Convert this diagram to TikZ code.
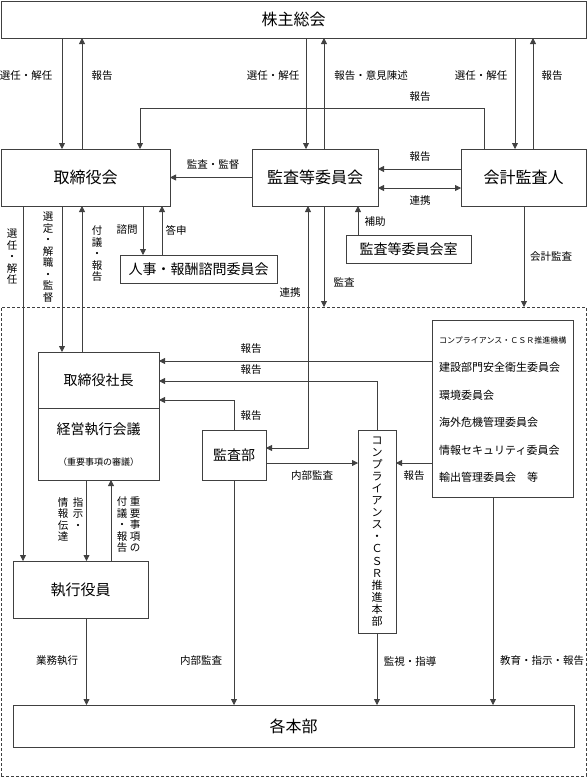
\documentclass[tikz,border=0pt]{standalone}
\usepackage{fontspec}
\setmainfont{Noto Sans CJK JP}
\usetikzlibrary{arrows.meta}

\begin{document}
\begin{tikzpicture}[x=1pt,y=-1pt,
    box/.style={draw=black!75,line width=0.8pt,inner sep=0pt,outer sep=0pt},
    big/.style={font=\fontsize{16}{16}\selectfont},
    mid/.style={font=\fontsize{14}{14}\selectfont},
    lbl/.style={font=\fontsize{10.5}{11.5}\selectfont,inner sep=0pt,align=center},
    item/.style={font=\fontsize{11}{11}\selectfont,inner sep=0pt,anchor=west},
    ln/.style={draw=black!75,line width=0.8pt},
    arr/.style={ln,-{Triangle[width=6pt,length=6pt]}},
    arrs/.style={ln,{Triangle[width=6pt,length=6pt]}-{Triangle[width=6pt,length=6pt]}}]
  \useasboundingbox (0,0) rectangle (587,777);

  % group frame
  \node[box,dash pattern=on 3pt off 2pt,line width=0.6pt,minimum width=585pt,minimum height=469pt] (group) at (293.5,541.5) {};

  % boxes
  \node[box,big,minimum width=585pt,minimum height=37pt] (kabu) at (293.5,19.5) {株主総会};
  \node[box,big,minimum width=169pt,minimum height=57pt] (tori) at (85.5,177.5) {取締役会};
  \node[box,big,minimum width=126pt,minimum height=57pt] (kansa) at (315,177.5) {監査等委員会};
  \node[box,big,minimum width=125pt,minimum height=57pt] (kaikei) at (523.5,177.5) {会計監査人};
  \node[box,mid,minimum width=157pt,minimum height=28pt] (jinji) at (198.5,269) {人事・報酬諮問委員会};
  \node[box,mid,minimum width=125pt,minimum height=28pt] (shitsu) at (408.5,249) {監査等委員会室};
  \node[box,mid,minimum width=121pt,minimum height=56pt] (shacho) at (98.5,380) {取締役社長};
  \node[box,minimum width=121pt,minimum height=72pt] (keiei) at (98.5,444) {};
  \node[mid,inner sep=0pt] (keieiname) at (98.5,429) {経営執行会議};
  \node[font=\fontsize{9}{9}\selectfont,inner sep=0pt] (keieinote) at (98.5,462) {（重要事項の審議）};
  \node[box,mid,minimum width=64pt,minimum height=50pt] (kansabu) at (234,455) {監査部};
  \node[box,minimum width=38pt,minimum height=203pt,align=center,font=\fontsize{11}{12.1}\selectfont] (suishin) at (377,531.5)
    {コ\\ン\\プ\\ラ\\イ\\ア\\ン\\ス\\・\\Ｃ\\Ｓ\\Ｒ\\推\\進\\本\\部};
  \node[box,minimum width=141pt,minimum height=177pt] (iinkai) at (502.5,408.5) {};
  \node[box,font=\fontsize{15}{15}\selectfont,minimum width=135pt,minimum height=57pt] (shikko) at (80.5,589.5) {執行役員};
  \node[box,big,minimum width=561pt,minimum height=42pt] (honbu) at (293.5,726) {各本部};

  % committees
  \node[item,font=\fontsize{8}{8}\selectfont] (m1) at (439,340) {コンプライアンス・ＣＳＲ推進機構};
  \node[item] (m2) at (439,367) {建設部門安全衛生委員会};
  \node[item] (m3) at (439,395) {環境委員会};
  \node[item] (m4) at (439,422) {海外危機管理委員会};
  \node[item] (m5) at (439,450) {情報セキュリティ委員会};
  \node[item] (m6) at (439,477) {輸出管理委員会　等};

  % columns and rows
  \coordinate (xNinTo) at (23,0);
  \coordinate (xKabuTo) at (62,0);
  \coordinate (xToKabu) at (82,0);
  \coordinate (xShiji) at (86.5,0);
  \coordinate (xFugi) at (111,0);
  \coordinate (xKaiHo) at (140,0);
  \coordinate (xShimon) at (143,0);
  \coordinate (xToshin) at (162,0);
  \coordinate (xKansaIn) at (306,0);
  \coordinate (xRenkei) at (308,0);
  \coordinate (xKansaOut) at (324,0);
  \coordinate (xHojo) at (358,0);
  \coordinate (xKaiUp) at (484,0);
  \coordinate (xKyoiku) at (493,0);
  \coordinate (xKaiIn) at (515,0);
  \coordinate (xKaiAudit) at (524,0);
  \coordinate (xKaiOut) at (533,0);
  \coordinate (yKaiHo) at (0,108);
  \coordinate (yHokoku) at (0,169);
  \coordinate (yRenkei) at (0,188);
  \coordinate (yHo1) at (0,361);
  \coordinate (yHo2) at (0,381);
  \coordinate (yHo3) at (0,400);
  \coordinate (yRenkei2) at (0,448);
  \coordinate (yNaibu) at (0,463);

  % shareholders
  \draw[arr] (kabu.south -| xKabuTo) -- (tori.north -| xKabuTo);
  \draw[arr] (tori.north -| xToKabu) -- (kabu.south -| xToKabu);
  \draw[arr] (kabu.south -| xKansaIn) -- (kansa.north -| xKansaIn);
  \draw[arr] (kansa.north -| xKansaOut) -- (kabu.south -| xKansaOut);
  \draw[arr] (kabu.south -| xKaiIn) -- (kaikei.north -| xKaiIn);
  \draw[arr] (kaikei.north -| xKaiOut) -- (kabu.south -| xKaiOut);
  \draw[arr] (kaikei.north -| xKaiUp) |- (xKaiHo |- yKaiHo) -- (tori.north -| xKaiHo);
  \node[lbl] (t1) at (26,76) {選任・解任};
  \node[lbl] (t2) at (102,76) {報告};
  \node[lbl] (t3) at (273,76) {選任・解任};
  \node[lbl] (t4) at (371,76) {報告・意見陳述};
  \node[lbl] (t5) at (481,76) {選任・解任};
  \node[lbl] (t6) at (552,76) {報告};
  \node[lbl] (t7) at (420,97) {報告};

  % audit committee
  \draw[arr] (kansa.west) -- (tori.east);
  \draw[arr] (kaikei.west |- yHokoku) -- (kansa.east |- yHokoku);
  \draw[arrs] (kansa.east |- yRenkei) -- (kaikei.west |- yRenkei);
  \draw[arr] (shitsu.north -| xHojo) -- (kansa.south -| xHojo);
  \draw[arr] (kansa.south -| xKansaOut) -- (group.north -| xKansaOut);
  \draw[arr] (kaikei.south -| xKaiAudit) -- (group.north -| xKaiAudit);
  \draw[arrs] (kansa.south -| xRenkei) |- (kansabu.east |- yRenkei2);
  \node[lbl] (t8) at (213,165) {監査・監督};
  \node[lbl] (t9) at (420,157) {報告};
  \node[lbl] (t10) at (420,201) {連携};
  \node[lbl] (t11) at (375,222) {補助};
  \node[lbl] (t12) at (344,282) {監査};
  \node[lbl] (t13) at (290,293) {連携};
  \node[lbl] (t14) at (551,257) {会計監査};

  % board
  \draw[arr] (tori.south -| xShimon) -- (jinji.north -| xShimon);
  \draw[arr] (jinji.north -| xToshin) -- (tori.south -| xToshin);
  \draw[arr] (tori.south -| xNinTo) -- (shikko.north -| xNinTo);
  \draw[arr] (tori.south -| xKabuTo) -- (shacho.north -| xKabuTo);
  \draw[arr] (shacho.north -| xToKabu) -- (tori.south -| xToKabu);
  \node[lbl] (t15) at (127,230) {諮問};
  \node[lbl] (t16) at (176,230) {答申};
  \node[lbl] (t17) at (12,257) {選\\任\\・\\解\\任};
  \node[lbl] (t18) at (48,257) {選\\定\\・\\解\\職\\・\\監\\督};
  \node[lbl] (t19) at (97,254) {付\\議\\・\\報\\告};

  % reports to president
  \draw[arr] (iinkai.west |- yHo1) -- (shacho.east |- yHo1);
  \draw[arr] (suishin.north) |- (shacho.east |- yHo2);
  \draw[arr] (kansabu.north) |- (shacho.east |- yHo3);
  \draw[arr] (kansabu.east |- yNaibu) -- (suishin.west |- yNaibu);
  \draw[arr] (iinkai.west |- yNaibu) -- (suishin.east |- yNaibu);
  \node[lbl] (t20) at (251,349) {報告};
  \node[lbl] (t21) at (251,370) {報告};
  \node[lbl] (t22) at (251,416) {報告};
  \node[lbl] (t23) at (312,476) {内部監査};
  \node[lbl] (t24) at (414,476) {報告};

  % executives
  \draw[arr] (keiei.south -| xShiji) -- (shikko.north -| xShiji);
  \draw[arr] (shikko.north -| xFugi) -- (keiei.south -| xFugi);
  \node[lbl,anchor=north] (t25) at (78,497) {指\\示\\・};
  \node[lbl,anchor=north] (t26) at (63,497) {情\\報\\伝\\達};
  \node[lbl,anchor=north] (t27) at (135,497) {重\\要\\事\\項\\の};
  \node[lbl,anchor=north] (t28) at (122,497) {付\\議\\・\\報\\告};

  % to divisions
  \draw[arr] (shikko.south -| xShiji) -- (honbu.north -| xShiji);
  \draw[arr] (kansabu.south) -- (honbu.north -| kansabu.south);
  \draw[arr] (suishin.south) -- (honbu.north -| suishin.south);
  \draw[arr] (iinkai.south -| xKyoiku) -- (honbu.north -| xKyoiku);
  \node[lbl] (t29) at (57,661) {業務執行};
  \node[lbl] (t30) at (201,661) {内部監査};
  \node[lbl] (t31) at (410,661) {監視・指導};
  \node[lbl] (t32) at (542,661) {教育・指示・報告};
\end{tikzpicture}
\end{document}
